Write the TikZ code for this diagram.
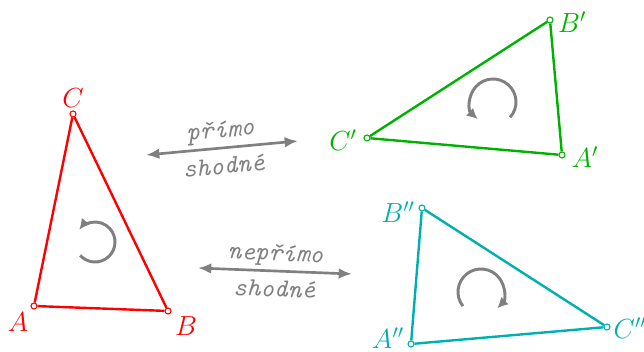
\documentclass[tikz,border=0pt]{standalone}
\usetikzlibrary{positioning,calc,arrows.meta}
\definecolor{zelena}{RGB}{0,178,0}
\definecolor{tyrkys}{RGB}{0,176,176}

\begin{document}
\begin{tikzpicture}[x=0.75pt,y=0.75pt,
    bod/.style={circle,draw,fill=white,inner sep=0pt,minimum size=4.5pt,line width=0.8pt},
    hrana/.style={line width=1.8pt},
    popis/.style={font=\huge,inner sep=1pt},
    obeh/.style={gray,line width=2.2pt,-{Latex[length=8pt,width=8pt]}},
    sipka/.style={gray,line width=2pt,{Latex[length=10pt,width=8pt]}-{Latex[length=10pt,width=8pt]}},
    slovo/.style={font=\fontsize{19.5}{22}\selectfont\ttfamily\itshape,gray}]

\useasboundingbox (0,0) rectangle (644,352);

% Trojuhelnik ABC
\node[red,bod] (A) at (34,46) {};
\node[red,bod] (B) at (168,41) {};
\node[red,bod] (C) at (73,238) {};
\draw[hrana,red] (A) -- (B) -- (C) -- (A);
\node[popis,red] (lA) at (18,30) {$A$};
\node[popis,red] (lB) at (186,26) {$B$};
\node[popis,red] (lC) at (73,254) {$C$};
\coordinate (o1) at (95,110);
\draw[obeh] ($(o1)+(222:20)$) arc[start angle=222,end angle=502,radius=20];

% Trojuhelnik A'B'C'
\node[zelena,bod] (A1) at (562,197) {};
\node[zelena,bod] (B1) at (550,332) {};
\node[zelena,bod] (C1) at (367,214) {};
\draw[hrana,zelena] (A1) -- (B1) -- (C1) -- (A1);
\node[popis,zelena] (lA1) at (585,195) {$A'$};
\node[popis,zelena] (lB1) at (572,330) {$B'$};
\node[popis,zelena] (lC1) at (343,212) {$C'$};
\coordinate (o2) at (493,250);
\draw[obeh] ($(o2)+(-42:23)$) arc[start angle=-42,end angle=228,radius=23];

% Trojuhelnik A''B''C''
\node[tyrkys,bod] (A2) at (411,8) {};
\node[tyrkys,bod] (B2) at (422,144) {};
\node[tyrkys,bod] (C2) at (607,25) {};
\draw[hrana,tyrkys] (A2) -- (B2) -- (C2) -- (A2);
\node[popis,tyrkys] (lA2) at (388,14) {$A''$};
\node[popis,tyrkys] (lB2) at (398,140) {$B''$};
\node[popis,tyrkys] (lC2) at (630,24) {$C''$};
\coordinate (o3) at (481,60);
\draw[obeh] ($(o3)+(218:23)$) arc[start angle=218,end angle=-45,radius=23];

% Sipky
\coordinate (s1) at (146,197);
\coordinate (s2) at (298,211);
\draw[sipka] (s1) -- (s2)
    node[midway,sloped,above=-1pt,slovo] (t1) {přímo}
    node[midway,sloped,below=3pt,slovo] (t2) {shodné};
\coordinate (s3) at (198,84);
\coordinate (s4) at (352,78);
\draw[sipka] (s3) -- (s4)
    node[midway,sloped,above=-1pt,slovo] (t3) {nepřímo}
    node[midway,sloped,below=3pt,slovo] (t4) {shodné};

\end{tikzpicture}
\end{document}
